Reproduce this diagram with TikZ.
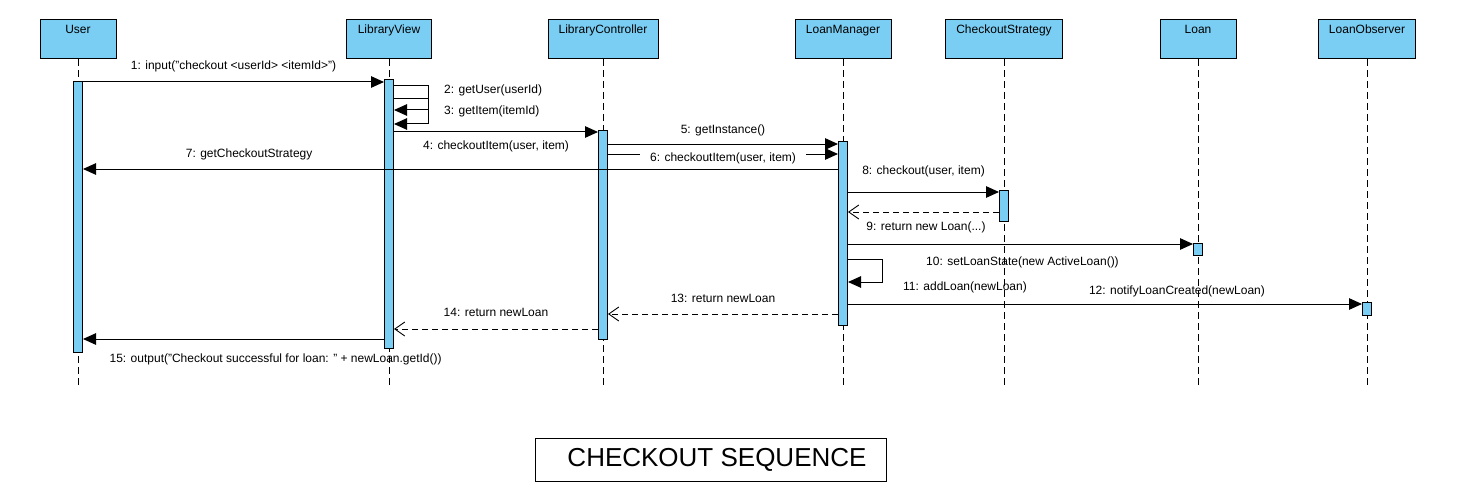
\documentclass[tikz,border=0pt]{standalone}
\usepackage{fontspec}
\setmainfont{Liberation Sans}
\usepackage{xcolor}
\usepackage{tikz}
\usetikzlibrary{arrows.meta,positioning,calc}
\definecolor{seqblue}{RGB}{122,206,244}

\begin{document}
\begin{tikzpicture}[
      x=1pt, y=-1pt,
      objbox/.style={rectangle, draw, fill=seqblue, line width=1pt, anchor=north,
            font=\fontsize{12}{14}\selectfont, inner ysep=4.5pt,
            text height=9.5pt, text depth=20.5pt, minimum width=#1},
      actbar/.style={rectangle, draw, fill=seqblue, line width=1pt, anchor=north,
            minimum width=9pt, inner sep=0pt, minimum height=#1},
      lifeline/.style={dash pattern=on 7pt off 4pt, line width=0.9pt},
      msg/.style={-{Triangle[length=13pt,width=11.5pt]}, line width=1pt},
      ret/.style={-{Straight Barb[length=10pt,width=14pt,line width=0.9pt]}, dash pattern=on 6pt off 4pt, line width=1pt},
      lbl/.style={font=\fontsize{12}{14}\selectfont, inner sep=1pt,
            text height=8.5pt, text depth=2.5pt}
]
      \useasboundingbox (0,0) rectangle (1469,500);

      % objects
      \node[objbox=76pt] (user) at (78,19) {User};
      \node[objbox=85pt] (view) at (389,19) {LibraryView};
      \node[objbox=110pt] (ctrl) at (603,19) {LibraryController};
      \node[objbox=96pt] (mgr) at (843,19) {LoanManager};
      \node[objbox=117pt] (strat) at (1004,19) {CheckoutStrategy};
      \node[objbox=76pt] (loan) at (1198,19) {Loan};
      \node[objbox=97pt] (obs) at (1367,19) {LoanObserver};

      % lifelines
      \draw[lifeline] (user.south) -- (user.south |- 0,385);
      \draw[lifeline] (view.south) -- (view.south |- 0,385);
      \draw[lifeline] (ctrl.south) -- (ctrl.south |- 0,385);
      \draw[lifeline] (mgr.south) -- (mgr.south |- 0,385);
      \draw[lifeline] (strat.south) -- (strat.south |- 0,385);
      \draw[lifeline] (loan.south) -- (loan.south |- 0,385);
      \draw[lifeline] (obs.south) -- (obs.south |- 0,385);

      % activations
      \node[actbar=271pt] (userbar) at (78,81) {};
      \node[actbar=269pt] (viewbar) at (389,79) {};
      \node[actbar=209pt] (ctrlbar) at (603,130) {};
      \node[actbar=184pt] (mgrbar) at (843,141) {};
      \node[actbar=31pt] (stratbar) at (1004,190) {};
      \node[actbar=12pt] (loanbar) at (1198,243) {};
      \node[actbar=13pt] (obsbar) at (1367,302) {};

      % messages
      \draw[msg] (userbar.east |- 0,82) -- node[lbl, above=8.5pt] {1: input("checkout <userId> <itemId>")} (viewbar.west |- 0,82);
      \draw[msg] (viewbar.east |- 0,86) -- ++(34,0) |- (viewbar.east |- 0,110);
      \draw[msg] (viewbar.east |- 0,99) -- ++(34,0) |- (viewbar.east |- 0,124);
      \node[lbl, anchor=west] (getuser) at (443,91) {2: getUser(userId)};
      \node[lbl, anchor=west] (getitem) at (443,111) {3: getItem(itemId)};
      \draw[msg] (viewbar.east |- 0,132) -- node[lbl, below=7.5pt] {4: checkoutItem(user, item)} (ctrlbar.west |- 0,132);
      \draw[msg] (ctrlbar.east |- 0,144) -- node[lbl, above=6.5pt] {5: getInstance()} (mgrbar.west |- 0,144);
      \draw[msg] (ctrlbar.east |- 0,154) -- node[lbl, fill=white, inner xsep=10pt, yshift=-4pt] {6: checkoutItem(user, item)} (mgrbar.west |- 0,154);
      \draw[msg] (mgrbar.west |- 0,169) -- node[lbl, above=7.5pt, pos=0.78] {7: getCheckoutStrategy} (userbar.east |- 0,169);
      \draw[msg] (mgrbar.east |- 0,192) -- node[lbl, above=13.5pt] {8: checkout(user, item)} (stratbar.west |- 0,192);
      \draw[ret] (stratbar.west |- 0,212) -- (mgrbar.east |- 0,212);
      \draw[msg] (mgrbar.east |- 0,244) -- node[lbl, above=9.5pt, pos=0.226] {9: return new Loan(...)} (loanbar.west |- 0,244);
      \draw[msg] (mgrbar.east |- 0,259) -- ++(34,0) |- (mgrbar.east |- 0,282);
      \node[lbl, anchor=west] (setstate) at (925,262) {10: setLoanState(new ActiveLoan())};
      \node[lbl, anchor=west] (addloan) at (902,287) {11: addLoan(newLoan)};
      \draw[msg] (mgrbar.east |- 0,304) -- node[lbl, above=5.5pt, pos=0.64] {12: notifyLoanCreated(newLoan)} (obsbar.west |- 0,304);
      \draw[ret] (mgrbar.west |- 0,314) -- node[lbl, above=7.5pt] {13: return newLoan} (ctrlbar.east |- 0,314);
      \draw[ret] (ctrlbar.west |- 0,329) -- node[lbl, above=8.5pt] {14: return newLoan} (viewbar.east |- 0,329);
      \draw[msg] (viewbar.west |- 0,339) -- node[lbl, below=13.5pt, pos=0.36] {15: output("Checkout successful for loan: " + newLoan.getId())} (userbar.east |- 0,339);

      % title
      \node[draw, line width=1pt, minimum width=351pt, minimum height=43pt,
            font=\fontsize{26}{31}\selectfont] (title) at (710.5,459.5) {\hspace*{13pt}\raisebox{4pt}{CHECKOUT SEQUENCE}};
\end{tikzpicture}
\end{document}
